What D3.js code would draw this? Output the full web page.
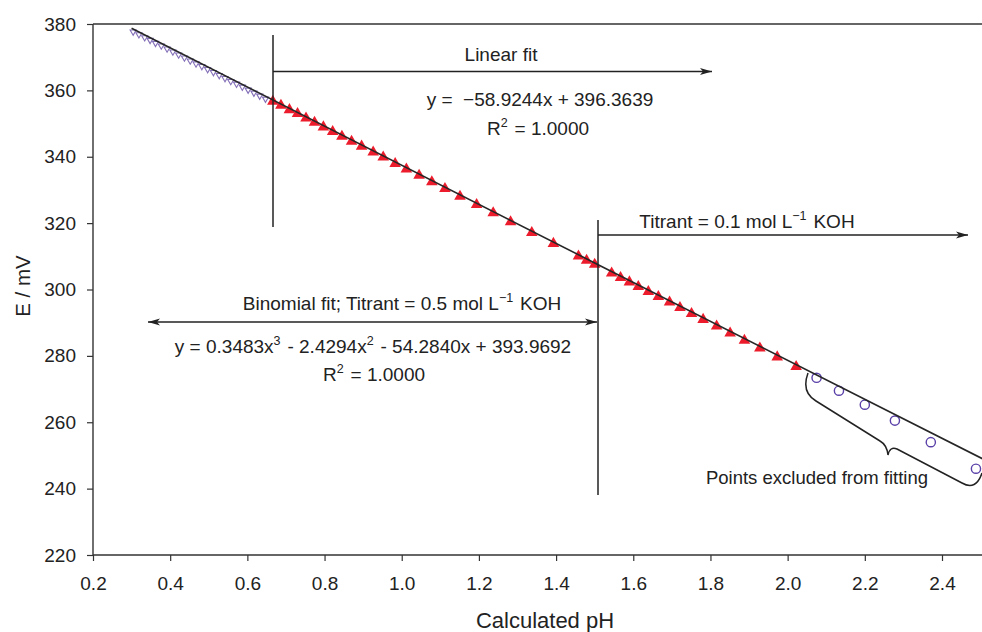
<!DOCTYPE html>
<html><head><meta charset="utf-8">
<script src="https://cdn.jsdelivr.net/npm/d3@7"></script>
<style>
html,body{margin:0;padding:0;background:#fff;}
svg{display:block;font-family:"Liberation Sans",Arial,sans-serif;}
text{white-space:pre;fill:#222;}
</style></head><body>
<svg id="chart" width="982" height="632"></svg>
<script>
// ---- data ----
const xTicks = [0.2, 0.4, 0.6, 0.8, 1.0, 1.2, 1.4, 1.6, 1.8, 2.0, 2.2, 2.4];
const yTicks = [220, 240, 260, 280, 300, 320, 340, 360, 380];

// open (purple) down-triangles, low pH region
const openPH = [0.304,0.319,0.334,0.348,0.362,0.377,0.392,0.407,0.422,0.437,0.452,0.467,
                0.482,0.497,0.512,0.527,0.542,0.557,0.572,0.587,0.602,0.617,0.632,0.647];
const openE  = [378.4,377.6,376.7,375.9,375.0,374.2,373.3,372.4,371.5,370.6,369.7,368.8,
                368.0,367.1,366.2,365.3,364.4,363.5,362.7,361.8,360.9,360.0,359.1,358.2];

// red filled triangles (fitted points)
const redPH = [0.666,0.687,0.709,0.730,0.752,0.774,0.797,0.821,0.845,0.870,0.896,0.926,0.952,0.983,
               1.012,1.045,1.078,1.112,1.151,1.194,1.237,1.282,1.337,1.393,1.458,1.479,1.500,
               1.544,1.567,1.590,1.613,1.639,1.665,1.694,1.721,1.751,1.781,1.816,1.851,1.888,
               1.928,1.973,2.022];
const redE  = [357.1,355.9,354.6,353.4,352.1,350.8,349.4,348.0,346.6,345.1,343.6,341.8,340.3,338.4,
               336.7,334.8,332.9,330.8,328.5,326.0,323.5,320.8,317.6,314.3,310.5,309.2,308.0,
               305.4,304.0,302.7,301.3,299.8,298.3,296.6,295.0,293.2,291.4,289.4,287.3,285.1,
               282.8,280.1,277.2];

// open circles (excluded points)
const circPH = [2.075, 2.133, 2.200, 2.278, 2.371, 2.488];
const circE  = [273.4, 269.5, 265.3, 260.5, 254.0, 246.0];

// fitted line points
const linePH = [0.300, 1.500, 2.505];
const lineE  = [378.7, 308.0, 249.0];

// ---- chart ----
const svg = d3.select("#chart");
const x = d3.scaleLinear().domain([0.2, 2.4]).range([93, 942]);
const y = d3.scaleLinear().domain([220, 380]).range([555, 24]);
const xRight = 982;

const defs = svg.append("defs");
defs.append("marker").attr("id","arr").attr("viewBox","0 -5 12 10")
  .attr("refX",12).attr("refY",0).attr("markerWidth",12).attr("markerHeight",10)
  .attr("markerUnits","userSpaceOnUse").attr("orient","auto-start-reverse")
  .append("path").attr("d","M0,-3.5L12,0L0,3.5L3,0Z").attr("fill","#222");

// frame top line
svg.append("line").attr("x1",x(0.2)).attr("x2",xRight).attr("y1",y(380)).attr("y2",y(380))
  .attr("stroke","#333").attr("stroke-width",1.4);

// axes
const gx = svg.append("g").attr("transform",`translate(0,${y(220)})`);
gx.append("line").attr("x1",x(0.2)).attr("x2",xRight).attr("stroke","#333").attr("stroke-width",1.4);
gx.call(d3.axisBottom(x).tickValues(xTicks).tickFormat(d3.format(".1f")).tickSize(6).tickPadding(16))
  .call(g=>g.select(".domain").remove());
gx.selectAll(".tick line").attr("stroke","#333").attr("stroke-width",1.2);
gx.selectAll(".tick text").attr("font-size",19).attr("fill","#222").attr("font-family","Liberation Sans, Arial, sans-serif");

const gy = svg.append("g").attr("transform",`translate(${x(0.2)},0)`);
gy.call(d3.axisLeft(y).tickValues(yTicks).tickFormat(d3.format("d")).tickSize(6).tickPadding(11));
gy.select(".domain").attr("stroke","#333").attr("stroke-width",1.4).attr("d",`M0,${y(220)}V${y(380)}`);
gy.selectAll(".tick line").attr("stroke","#333").attr("stroke-width",1.2);
gy.selectAll(".tick text").attr("font-size",19).attr("fill","#222").attr("font-family","Liberation Sans, Arial, sans-serif");

svg.append("text").attr("x",545).attr("y",628).attr("text-anchor","middle")
  .attr("font-size",22).text("Calculated pH");
svg.append("text").attr("transform","translate(30,286) rotate(-90)").attr("text-anchor","middle")
  .attr("font-size",20.5).text("E / mV");

// markers
const openData = openPH.map((p,i)=>({p, e: openE[i]}));
const redData = redPH.map((p,i)=>({p, e: redE[i]}));
const circData = circPH.map((p,i)=>({p, e: circE[i]}));

svg.append("g").selectAll("path").data(openData).join("path")
  .attr("d", d3.symbol(d3.symbolTriangle, 16))
  .attr("transform", d=>`translate(${x(d.p)},${y(d.e)+2.5}) rotate(180)`)
  .attr("fill","none").attr("stroke","#8470b8").attr("stroke-width",1.1);

svg.append("g").selectAll("path").data(redData).join("path")
  .attr("d", d3.symbol(d3.symbolTriangle, 58))
  .attr("transform", d=>`translate(${x(d.p)},${y(d.e)+1.5})`)
  .attr("fill","#ec1c2c");

svg.append("g").selectAll("circle").data(circData).join("circle")
  .attr("cx", d=>x(d.p)).attr("cy", d=>y(d.e)).attr("r",4.6)
  .attr("fill","#fff").attr("stroke","#5a40a8").attr("stroke-width",1.4);

// fit line
const lineData = linePH.map((p,i)=>[p, lineE[i]]);
svg.append("path").datum(lineData)
  .attr("d", d3.line().x(d=>x(d[0])).y(d=>y(d[1])))
  .attr("fill","none").attr("stroke","#262626").attr("stroke-width",1.6);

// annotations
const ann = svg.append("g").attr("stroke","#222").attr("stroke-width",1.5);
ann.append("line").attr("x1",273).attr("x2",273).attr("y1",35).attr("y2",227);
ann.append("line").attr("x1",273).attr("x2",712).attr("y1",71.5).attr("y2",71.5).attr("marker-end","url(#arr)");
ann.append("line").attr("x1",598).attr("x2",598).attr("y1",220).attr("y2",495);
ann.append("line").attr("x1",598).attr("x2",968).attr("y1",235).attr("y2",235).attr("marker-end","url(#arr)");
ann.append("line").attr("x1",148).attr("x2",597).attr("y1",322).attr("y2",322)
  .attr("marker-start","url(#arr)").attr("marker-end","url(#arr)");
ann.append("path").attr("fill","none")
  .attr("d","M808,373 Q801,392 816,401 L880,441 Q887,445 888,455 Q890,446 897,449 L962,483 Q976,491 982,473");

function label(xp, yp, parts, size){
  const t = svg.append("text").attr("x",xp).attr("y",yp).attr("text-anchor","middle").attr("font-size",size||19);
  parts.forEach(p=>{
    if (typeof p === "string") t.append("tspan").text(p);
    else {
      t.append("tspan").attr("font-size",12.5).attr("dy",-8).text(p.sup);
      t.append("tspan").attr("dy",8).text("\u200A");
    }
  });
  return t;
}
label(501, 61, ["Linear fit"]);
label(540, 106, ["y =  \u221258.9244x + 396.3639"]);
label(538, 135, ["R", {sup:"2"}, " = 1.0000"]);
label(747, 228, ["Titrant = 0.1 mol L", {sup:"\u22121"}, " KOH"]);
label(402, 310, ["Binomial fit; Titrant = 0.5 mol L", {sup:"\u22121"}, " KOH"]);
label(373, 353, ["y = 0.3483x", {sup:"3"}, " - 2.4294x", {sup:"2"}, " - 54.2840x + 393.9692"]);
label(374, 381, ["R", {sup:"2"}, " = 1.0000"]);
label(817, 484, ["Points excluded from fitting"], 18.5);
</script>
</body></html>
